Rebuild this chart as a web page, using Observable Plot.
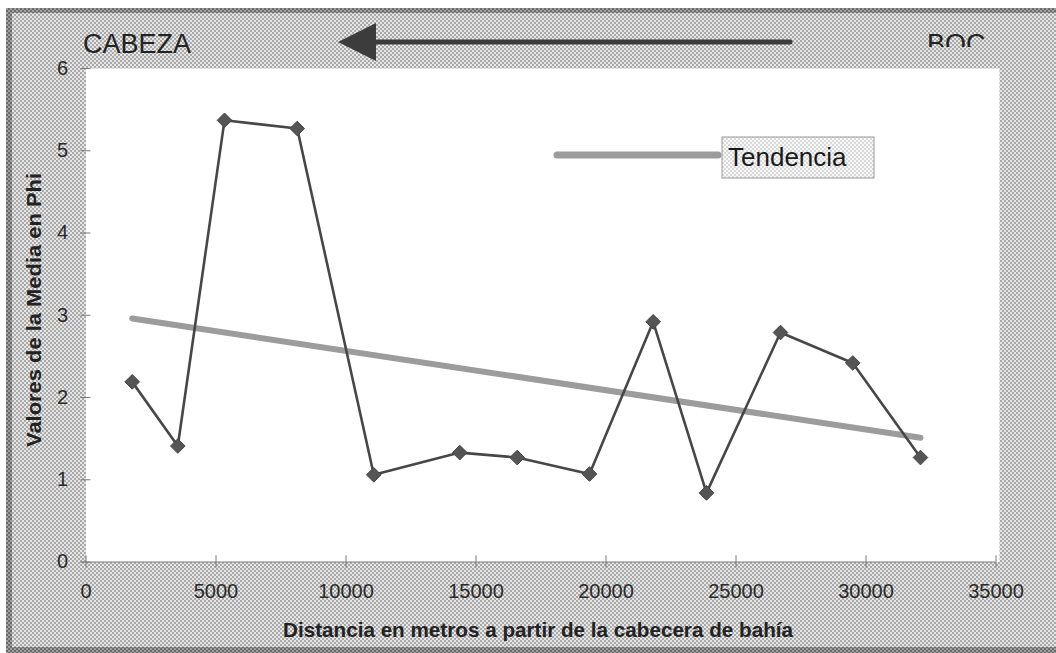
<!DOCTYPE html>
<html><head><meta charset="utf-8">
<script src="https://cdn.jsdelivr.net/npm/d3@7"></script>
<script src="https://cdn.jsdelivr.net/npm/@observablehq/plot@0.6"></script>
<style>
html,body{margin:0;padding:0;background:#fff;}
#chart{position:relative;width:1056px;height:653px;overflow:hidden;}
#chart svg{position:absolute;left:0;top:0;}
</style></head><body><div id="chart"></div>
<script>
// ---- data ----
const distancia = [1777, 3531, 5327, 8123, 11069, 14376, 16584, 19365, 21815, 23865, 26711, 29491, 32095];
const mediaPhi  = [2.19, 1.41, 5.37, 5.27, 1.06, 1.33, 1.27, 1.07, 2.92, 0.84, 2.79, 2.42, 1.27];
const tendenciaX = [1777, 32095];
const tendenciaY = [2.96, 1.51];
const xTicks = [0, 5000, 10000, 15000, 20000, 25000, 30000, 35000];
const yTicks = [0, 1, 2, 3, 4, 5, 6];
const xTitle = "Distancia en metros a partir de la cabecera de bahía";
const yTitle = "Valores de la Media en Phi";
const legendLabel = "Tendencia";
const leftLabel = "CABEZA";
const rightLabel = "BOC";

(function () {
const rows = distancia.map((d, i) => ({x: d, y: mediaPhi[i]}));
const trend = tendenciaX.map((d, i) => ({x: d, y: tendenciaY[i]}));

const W = 1056, H = 653;
const plot = Plot.plot({
  width: W, height: H,
  marginLeft: 85.5, marginRight: 60.5, marginTop: 68, marginBottom: 91.5,
  style: {background: "transparent", fontFamily: "'Liberation Sans', Arial, sans-serif", fontSize: "20px", color: "#222", overflow: "visible"},
  x: {domain: [0, 35000]},
  y: {domain: [0, 6]},
  marks: [
    Plot.frame({fill: "white", stroke: "none", insetRight: -3.5}),
    Plot.ruleX(xTicks, {y1: 0, y2: 0.075, stroke: "#777", strokeWidth: 1}),
    Plot.ruleY(yTicks, {x1: 0, x2: 190, stroke: "#777", strokeWidth: 1}),
    Plot.axisX({ticks: xTicks, tickSize: 6, tickPadding: 16, tickFormat: d3.format("d"), color: "#2a2a2a", stroke: "#777", label: null, fontSize: 20}),
    Plot.axisY({ticks: yTicks, tickSize: 5, tickPadding: 13, tickFormat: d3.format("d"), color: "#2a2a2a", stroke: "#777", label: null, fontSize: 20}),
    Plot.ruleY([0], {stroke: "#808080", strokeWidth: 1.2, insetLeft: -5}),
    Plot.line(trend, {x: "x", y: "y", stroke: "#9c9c9c", strokeWidth: 6, strokeLinecap: "round"}),
    Plot.line(rows, {x: "x", y: "y", stroke: "#474747", strokeWidth: 2.6}),
    Plot.dot(rows, {x: "x", y: "y", symbol: "diamond2", r: 6.6, fill: "#555", stroke: "#454545", strokeWidth: 1})
  ]
});
document.getElementById("chart").appendChild(plot);

const svg = d3.select(plot);
const defs = svg.insert("defs", ":first-child");
function dither(id, light, dark) {
  const p = defs.append("pattern").attr("id", id).attr("width", 4).attr("height", 4).attr("patternUnits", "userSpaceOnUse");
  p.append("rect").attr("width", 4).attr("height", 4).attr("fill", light);
  p.append("rect").attr("width", 2).attr("height", 2).attr("fill", dark);
  p.append("rect").attr("x", 2).attr("y", 2).attr("width", 2).attr("height", 2).attr("fill", dark);
}
dither("dither", "#e6e6e6", "#a9a9a9");
dither("dither2", "#f7f7f7", "#dadada");
dither("ditherB", "#a0a0a0", "#6a6a6a");
defs.append("clipPath").attr("id", "bocClip").append("rect").attr("x", 900).attr("y", 0).attr("width", 150).attr("height", 47);

const bg = svg.insert("g", "defs + *");
bg.append("rect").attr("width", W).attr("height", H).attr("fill", "url(#dither)");
bg.append("rect").attr("x", 0).attr("y", 0).attr("width", W).attr("height", 8).attr("fill", "#fff");
bg.append("rect").attr("x", 0).attr("y", 0).attr("width", 6).attr("height", H).attr("fill", "#fff");
bg.append("rect").attr("x", 6).attr("y", 8).attr("width", W).attr("height", 5).attr("fill", "url(#ditherB)");
bg.append("rect").attr("x", 6).attr("y", 8).attr("width", 6).attr("height", H).attr("fill", "url(#ditherB)");
bg.append("rect").attr("x", 6).attr("y", H - 6).attr("width", W).attr("height", 6).attr("fill", "url(#ditherB)");

const ann = svg.append("g").attr("text-anchor", "start");
const sans = "'Liberation Sans', Arial, sans-serif";
ann.append("text").text(xTitle)
  .attr("x", 538).attr("y", 637).attr("text-anchor", "middle")
  .attr("font-family", sans).attr("font-weight", "bold").attr("font-size", 19.5).attr("fill", "#222")
  .attr("textLength", 510).attr("lengthAdjust", "spacingAndGlyphs");
ann.append("text").text(yTitle)
  .attr("transform", "translate(41,310) rotate(-90)").attr("text-anchor", "middle")
  .attr("font-family", sans).attr("font-weight", "bold").attr("font-size", 19.5).attr("fill", "#222")
  .attr("textLength", 274).attr("lengthAdjust", "spacingAndGlyphs");
ann.append("text").text(leftLabel).attr("text-anchor", "start")
  .attr("x", 83).attr("y", 53).attr("font-family", sans).attr("font-size", 27).attr("fill", "#222");
ann.append("text").text(rightLabel).attr("text-anchor", "start").attr("clip-path", "url(#bocClip)")
  .attr("x", 927).attr("y", 53).attr("font-family", sans).attr("font-size", 27).attr("fill", "#222");
ann.append("line").attr("x1", 370).attr("x2", 790).attr("y1", 42).attr("y2", 42)
  .attr("stroke", "#3c3c3c").attr("stroke-width", 5).attr("stroke-linecap", "round");
ann.append("path").attr("d", "M338,42 L376,23 L376,61 Z").attr("fill", "#3c3c3c");

const lg = svg.append("g").attr("text-anchor", "start");
lg.append("line").attr("x1", 557).attr("x2", 718).attr("y1", 155).attr("y2", 155)
  .attr("stroke", "#9c9c9c").attr("stroke-width", 7).attr("stroke-linecap", "round");
lg.append("rect").attr("x", 722).attr("y", 137).attr("width", 152).attr("height", 41)
  .attr("fill", "url(#dither2)").attr("stroke", "#9a9a9a").attr("stroke-width", 1);
lg.append("text").text(legendLabel).attr("text-anchor", "start").attr("x", 728).attr("y", 166)
  .attr("font-family", sans).attr("font-size", 26).attr("fill", "#1a1a1a");
})();
</script></body></html>
